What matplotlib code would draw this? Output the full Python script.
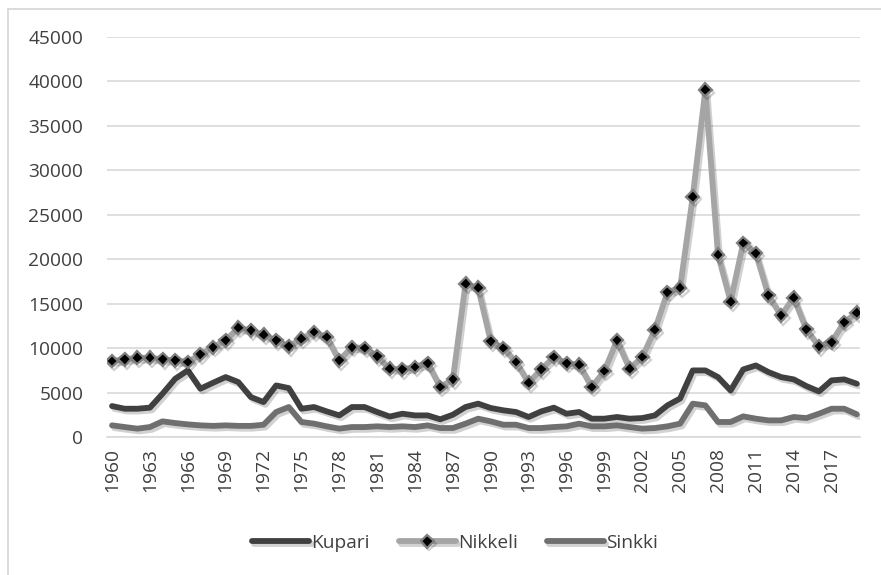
import matplotlib
matplotlib.use("Agg")
import matplotlib.pyplot as plt
import matplotlib.patheffects as pe
from matplotlib.lines import Line2D

plt.rcParams["font.family"] = ["Open Sans", "DejaVu Sans"]

years = list(range(1960, 2020))

kupari = [3480, 3180, 3180, 3300, 4870, 6550, 7490, 5430, 6100, 6740,
          6180, 4490, 3930, 5800, 5500, 3180, 3370, 2880, 2430, 3370,
          3370, 2810, 2300, 2620, 2430, 2430, 1990, 2510, 3370, 3750,
          3260, 3000, 2810, 2250, 2880, 3300, 2620, 2810, 2060, 2060,
          2250, 2060, 2130, 2430, 3560, 4330, 7490, 7490, 6740, 5240,
          7600, 8050, 7300, 6740, 6480, 5730, 5130, 6370, 6480, 5990]

nikkeli = [8540, 8730, 8910, 8910, 8730, 8610, 8430, 9290, 10110, 10860,
           12280, 11990, 11500, 10860, 10190, 11050, 11800, 11240, 8610, 10110,
           10000, 9060, 7700, 7600, 7870, 8310, 5620, 6480, 17230, 16780,
           10750, 10000, 8430, 6100, 7600, 8990, 8310, 8130, 5620, 7420,
           10860, 7680, 8990, 12060, 16290, 16780, 27040, 39060, 20520, 15240,
           21830, 20670, 15920, 13670, 15690, 12100, 10190, 10670, 12920, 13970]

sinkki = [1310, 1120, 940, 1120, 1760, 1570, 1420, 1310, 1250, 1310,
          1250, 1250, 1380, 2810, 3370, 1690, 1500, 1200, 940, 1120,
          1120, 1200, 1120, 1200, 1120, 1310, 1010, 1010, 1500, 2060,
          1760, 1380, 1380, 1010, 1010, 1120, 1200, 1500, 1200, 1200,
          1310, 1120, 940, 1010, 1200, 1500, 3750, 3560, 1690, 1690,
          2320, 2060, 1870, 1870, 2250, 2130, 2620, 3180, 3180, 2550]

fig = plt.figure(figsize=(8.81, 5.75), dpi=100)
ax = fig.add_axes([107 / 881, 1 - 437 / 575, (860 - 107) / 881, 400 / 575])

# chart frame: only top and left edges show in the picture
fx, fy = 7.5 / 881, 1 - 8.5 / 575
fig.add_artist(Line2D([fx, 1], [fy, fy], transform=fig.transFigure,
                      color="#d9d9d9", linewidth=1.3))
fig.add_artist(Line2D([fx, fx], [0, fy], transform=fig.transFigure,
                      color="#d9d9d9", linewidth=1.3))

shadow = [pe.SimpleLineShadow(offset=(1.5, -2), shadow_color="#000000", alpha=0.18),
          pe.Normal()]

ax.plot(years, kupari, color="#404040", linewidth=4.2, label="Kupari",
        solid_capstyle="round", solid_joinstyle="round", path_effects=shadow, zorder=3)
ax.plot(years, nikkeli, color="#a5a5a5", linewidth=4.2, label="Nikkeli",
        marker="D", markersize=6.5, markerfacecolor="black",
        markeredgecolor="#7f7f7f", markeredgewidth=1.6,
        solid_capstyle="round", solid_joinstyle="round", path_effects=shadow, zorder=4)
ax.plot(years, sinkki, color="#6f6f6f", linewidth=4.2, label="Sinkki",
        solid_capstyle="round", solid_joinstyle="round", path_effects=shadow, zorder=5)

ax.set_xlim(1959.6, 2019.25)
ax.set_ylim(0, 45000)
ax.set_yticks(range(0, 45001, 5000))
ax.set_xticks(years[::3])
ax.set_xticklabels([str(y) for y in years[::3]], rotation=90)
ax.grid(axis="y", color="#d9d9d9", linewidth=1.2)
ax.set_axisbelow(True)
for s in ["top", "right", "left"]:
    ax.spines[s].set_visible(False)
ax.spines["bottom"].set_color("#d9d9d9")
ax.spines["bottom"].set_linewidth(1.2)
ax.tick_params(axis="both", length=0, labelsize=13.8, labelcolor="#404040")
ax.tick_params(axis="y", pad=17)
ax.tick_params(axis="x", pad=8)

fig.legend(loc="center", bbox_to_anchor=(455 / 881, 1 - 543 / 575), ncol=3,
           frameon=False, fontsize=13.8, handlelength=3.0, handletextpad=0.1,
           columnspacing=1.5, labelcolor="#404040")

fig.savefig("out.png", dpi=100)
